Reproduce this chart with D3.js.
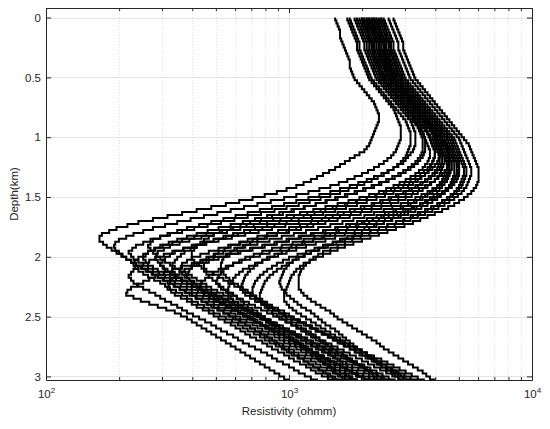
<!DOCTYPE html>
<html>
<head>
<meta charset="utf-8">
<script src="https://cdn.jsdelivr.net/npm/d3@7"></script>
<style>
  html, body { margin: 0; padding: 0; background: #fff; }
  svg { display: block; font-family: "Liberation Sans", Arial, sans-serif; }
</style>
</head>
<body>
<svg id="chart" width="550" height="429"></svg>
<script>
// top of each layer (km)
const depthKm = [0,0.025,0.05,0.075,0.1,0.125,0.15,0.175,0.2,0.225,0.25,0.275,0.3,0.325,0.35,0.375,0.4,0.425,0.45,0.475,
  0.5,0.525,0.55,0.575,0.6,0.625,0.65,0.675,0.7,0.725,0.75,0.775,0.8,0.825,0.85,0.875,0.9,0.925,0.95,0.975,
  1,1.025,1.05,1.075,1.1,1.125,1.15,1.175,1.2,1.225,1.25,1.275,1.3,1.325,1.35,1.375,1.4,1.425,1.45,1.475,
  1.5,1.525,1.55,1.575,1.6,1.625,1.65,1.675,1.7,1.725,1.75,1.775,1.8,1.825,1.85,1.875,1.9,1.925,1.95,1.975,
  2,2.025,2.05,2.075,2.1,2.125,2.15,2.175,2.2,2.225,2.25,2.275,2.3,2.325,2.35,2.375,2.4,2.425,2.45,2.475,
  2.5,2.525,2.55,2.575,2.6,2.625,2.65,2.675,2.7,2.725,2.75,2.775,2.8,2.825,2.85,2.875,2.9,2.925,2.95,2.975,
  3,3.025,3.05];

// log10 of resistivity (ohmm) in each layer, one array per model
const model01 = [3.19,3.195,3.20,3.205,3.21,3.21,3.21,3.215,3.22,3.225,3.23,3.235,3.24,3.245,3.25,3.25,3.25,3.255,3.26,3.265,
  3.27,3.28,3.29,3.30,3.31,3.32,3.33,3.34,3.35,3.355,3.36,3.365,3.37,3.37,3.37,3.365,3.36,3.355,3.35,3.345,
  3.34,3.335,3.33,3.32,3.31,3.29,3.27,3.25,3.23,3.21,3.19,3.165,3.14,3.115,3.09,3.06,3.03,2.99,2.95,2.90,
  2.85,2.795,2.74,2.68,2.62,2.56,2.50,2.44,2.38,2.335,2.29,2.26,2.23,2.22,2.22,2.235,2.25,2.27,2.29,2.31,
  2.33,2.35,2.37,2.395,2.42,2.44,2.46,2.485,2.51,2.53,2.55,2.575,2.60,2.62,2.64,2.665,2.69,2.71,2.73,2.755,
  2.78,2.80,2.82,2.84,2.86,2.88,2.90,2.92,2.94,2.96,2.98,3.00,3.02,3.04,3.06,3.08,3.10,3.12,3.14,3.16,
  3.18,3.20,3.22];
const model02 = [3.24,3.245,3.25,3.255,3.26,3.265,3.27,3.275,3.28,3.28,3.28,3.285,3.29,3.295,3.30,3.305,3.31,3.315,3.32,3.325,
  3.33,3.34,3.35,3.36,3.37,3.38,3.39,3.40,3.41,3.42,3.43,3.435,3.44,3.445,3.45,3.455,3.46,3.46,3.46,3.46,
  3.46,3.455,3.45,3.445,3.44,3.43,3.42,3.405,3.39,3.37,3.35,3.325,3.30,3.27,3.24,3.205,3.17,3.125,3.08,3.03,
  2.98,2.925,2.87,2.815,2.76,2.705,2.65,2.595,2.54,2.49,2.44,2.40,2.36,2.33,2.30,2.285,2.28,2.285,2.30,2.315,
  2.33,2.35,2.37,2.39,2.41,2.435,2.46,2.48,2.50,2.525,2.55,2.57,2.59,2.615,2.64,2.66,2.68,2.705,2.73,2.75,
  2.77,2.795,2.82,2.84,2.86,2.885,2.91,2.93,2.95,2.975,3.00,3.02,3.04,3.065,3.09,3.11,3.13,3.155,3.18,3.20,
  3.22,3.245,3.27];
const model03 = [3.27,3.275,3.28,3.285,3.29,3.295,3.30,3.305,3.31,3.31,3.31,3.315,3.32,3.325,3.33,3.335,3.34,3.345,3.35,3.355,
  3.36,3.37,3.38,3.39,3.40,3.41,3.42,3.43,3.44,3.45,3.46,3.47,3.48,3.49,3.50,3.505,3.51,3.515,3.52,3.52,
  3.52,3.52,3.52,3.515,3.51,3.50,3.49,3.48,3.47,3.45,3.43,3.405,3.38,3.35,3.32,3.285,3.25,3.21,3.17,3.125,
  3.08,3.03,2.98,2.93,2.88,2.83,2.78,2.73,2.68,2.63,2.58,2.54,2.50,2.47,2.44,2.43,2.42,2.43,2.44,2.455,
  2.47,2.49,2.51,2.53,2.55,2.575,2.60,2.62,2.64,2.66,2.68,2.705,2.73,2.75,2.77,2.79,2.81,2.83,2.85,2.875,
  2.90,2.92,2.94,2.96,2.98,3.005,3.03,3.05,3.07,3.09,3.11,3.135,3.16,3.18,3.20,3.22,3.24,3.26,3.28,3.305,
  3.33,3.35,3.37];
const model04 = [3.25,3.255,3.26,3.265,3.27,3.275,3.28,3.285,3.29,3.29,3.29,3.295,3.30,3.305,3.31,3.315,3.32,3.325,3.33,3.335,
  3.34,3.35,3.36,3.37,3.38,3.39,3.40,3.41,3.42,3.43,3.44,3.45,3.46,3.47,3.48,3.485,3.49,3.495,3.50,3.50,
  3.50,3.50,3.50,3.495,3.49,3.485,3.48,3.47,3.46,3.445,3.43,3.41,3.39,3.365,3.34,3.31,3.28,3.245,3.21,3.17,
  3.13,3.085,3.04,2.99,2.94,2.885,2.83,2.775,2.72,2.665,2.61,2.56,2.51,2.47,2.43,2.40,2.37,2.355,2.34,2.35,
  2.36,2.38,2.40,2.42,2.44,2.465,2.49,2.51,2.53,2.555,2.58,2.60,2.62,2.645,2.67,2.69,2.71,2.735,2.76,2.78,
  2.80,2.825,2.85,2.87,2.89,2.915,2.94,2.96,2.98,3.005,3.03,3.05,3.07,3.095,3.12,3.14,3.16,3.185,3.21,3.23,
  3.25,3.275,3.30];
const model05 = [3.29,3.295,3.30,3.305,3.31,3.315,3.32,3.325,3.33,3.33,3.33,3.335,3.34,3.345,3.35,3.355,3.36,3.365,3.37,3.375,
  3.38,3.39,3.40,3.41,3.42,3.43,3.44,3.45,3.46,3.47,3.48,3.49,3.50,3.51,3.52,3.53,3.54,3.545,3.55,3.555,
  3.56,3.56,3.56,3.56,3.56,3.555,3.55,3.54,3.53,3.515,3.50,3.48,3.46,3.435,3.41,3.38,3.35,3.315,3.28,3.24,
  3.20,3.155,3.11,3.06,3.01,2.96,2.91,2.86,2.81,2.76,2.71,2.665,2.62,2.58,2.54,2.505,2.47,2.445,2.42,2.41,
  2.40,2.41,2.42,2.44,2.46,2.485,2.51,2.535,2.56,2.58,2.60,2.625,2.65,2.675,2.70,2.72,2.74,2.765,2.79,2.815,
  2.84,2.86,2.88,2.905,2.93,2.955,2.98,3.00,3.02,3.045,3.07,3.095,3.12,3.14,3.16,3.185,3.21,3.235,3.26,3.28,
  3.30,3.325,3.35];
const model06 = [3.28,3.285,3.29,3.295,3.30,3.305,3.31,3.315,3.32,3.32,3.32,3.325,3.33,3.335,3.34,3.345,3.35,3.355,3.36,3.365,
  3.37,3.38,3.39,3.40,3.41,3.42,3.43,3.44,3.45,3.46,3.47,3.48,3.49,3.50,3.51,3.52,3.53,3.54,3.55,3.555,
  3.56,3.565,3.57,3.575,3.58,3.58,3.58,3.575,3.57,3.56,3.55,3.535,3.52,3.50,3.48,3.455,3.43,3.40,3.37,3.33,
  3.29,3.245,3.20,3.15,3.10,3.045,2.99,2.935,2.88,2.825,2.77,2.715,2.66,2.61,2.56,2.52,2.48,2.45,2.42,2.40,
  2.38,2.365,2.36,2.365,2.38,2.40,2.42,2.445,2.47,2.49,2.51,2.535,2.56,2.58,2.60,2.625,2.65,2.67,2.69,2.715,
  2.74,2.765,2.79,2.81,2.83,2.855,2.88,2.90,2.92,2.945,2.97,2.99,3.01,3.035,3.06,3.08,3.10,3.125,3.15,3.17,
  3.19,3.215,3.24];
const model07 = [3.31,3.315,3.32,3.325,3.33,3.335,3.34,3.345,3.35,3.35,3.35,3.355,3.36,3.365,3.37,3.375,3.38,3.385,3.39,3.395,
  3.40,3.41,3.42,3.43,3.44,3.45,3.46,3.47,3.48,3.49,3.50,3.51,3.52,3.53,3.54,3.55,3.56,3.565,3.57,3.575,
  3.58,3.585,3.59,3.595,3.60,3.60,3.60,3.595,3.59,3.585,3.58,3.57,3.56,3.545,3.53,3.51,3.49,3.46,3.43,3.395,
  3.36,3.32,3.28,3.235,3.19,3.14,3.09,3.04,2.99,2.94,2.89,2.84,2.79,2.74,2.69,2.645,2.60,2.565,2.53,2.51,
  2.49,2.48,2.47,2.48,2.49,2.51,2.53,2.555,2.58,2.605,2.63,2.655,2.68,2.705,2.73,2.755,2.78,2.805,2.83,2.855,
  2.88,2.905,2.93,2.96,2.99,3.015,3.04,3.065,3.09,3.115,3.14,3.165,3.19,3.215,3.24,3.265,3.29,3.315,3.34,3.365,
  3.39,3.415,3.44];
const model08 = [3.30,3.305,3.31,3.315,3.32,3.325,3.33,3.335,3.34,3.34,3.34,3.345,3.35,3.355,3.36,3.365,3.37,3.375,3.38,3.385,
  3.39,3.40,3.41,3.42,3.43,3.44,3.45,3.46,3.47,3.48,3.49,3.50,3.51,3.52,3.53,3.54,3.55,3.56,3.57,3.58,
  3.59,3.595,3.60,3.605,3.61,3.615,3.62,3.62,3.62,3.615,3.61,3.60,3.59,3.575,3.56,3.54,3.52,3.495,3.47,3.44,
  3.41,3.375,3.34,3.295,3.25,3.20,3.15,3.095,3.04,2.985,2.93,2.875,2.82,2.765,2.71,2.66,2.61,2.565,2.52,2.485,
  2.45,2.425,2.40,2.38,2.36,2.35,2.34,2.35,2.36,2.38,2.40,2.425,2.45,2.47,2.49,2.515,2.54,2.56,2.58,2.605,
  2.63,2.655,2.68,2.70,2.72,2.745,2.77,2.79,2.81,2.835,2.86,2.885,2.91,2.93,2.95,2.975,3.00,3.02,3.04,3.065,
  3.09,3.115,3.14];
const model09 = [3.33,3.335,3.34,3.345,3.35,3.355,3.36,3.365,3.37,3.37,3.37,3.375,3.38,3.385,3.39,3.395,3.40,3.405,3.41,3.415,
  3.42,3.43,3.44,3.45,3.46,3.47,3.48,3.49,3.50,3.51,3.52,3.53,3.54,3.55,3.56,3.57,3.58,3.59,3.60,3.605,
  3.61,3.615,3.62,3.625,3.63,3.635,3.64,3.64,3.64,3.635,3.63,3.625,3.62,3.61,3.60,3.585,3.57,3.55,3.53,3.505,
  3.48,3.45,3.42,3.38,3.34,3.295,3.25,3.20,3.15,3.10,3.05,3.00,2.95,2.90,2.85,2.80,2.75,2.71,2.67,2.635,
  2.60,2.58,2.56,2.555,2.55,2.56,2.57,2.59,2.61,2.635,2.66,2.68,2.70,2.725,2.75,2.775,2.80,2.82,2.84,2.865,
  2.89,2.915,2.94,2.96,2.98,3.005,3.03,3.05,3.07,3.095,3.12,3.145,3.17,3.19,3.21,3.235,3.26,3.285,3.31,3.33,
  3.35,3.375,3.40];
const model10 = [3.32,3.325,3.33,3.335,3.34,3.345,3.35,3.355,3.36,3.36,3.36,3.365,3.37,3.375,3.38,3.385,3.39,3.395,3.40,3.405,
  3.41,3.42,3.43,3.44,3.45,3.46,3.47,3.48,3.49,3.50,3.51,3.52,3.53,3.54,3.55,3.56,3.57,3.58,3.59,3.60,
  3.61,3.615,3.62,3.625,3.63,3.635,3.64,3.645,3.65,3.65,3.65,3.645,3.64,3.635,3.63,3.62,3.61,3.595,3.58,3.56,
  3.54,3.515,3.49,3.46,3.43,3.395,3.36,3.32,3.28,3.235,3.19,3.14,3.09,3.04,2.99,2.94,2.89,2.84,2.79,2.74,
  2.69,2.645,2.60,2.56,2.52,2.485,2.45,2.425,2.40,2.375,2.35,2.335,2.33,2.36,2.39,2.425,2.46,2.495,2.53,2.555,
  2.58,2.60,2.62,2.64,2.66,2.68,2.70,2.72,2.74,2.76,2.78,2.80,2.82,2.84,2.86,2.88,2.90,2.92,2.94,2.96,
  2.98,3.00,3.02];
const model11 = [3.34,3.345,3.35,3.355,3.36,3.365,3.37,3.375,3.38,3.38,3.38,3.385,3.39,3.395,3.40,3.405,3.41,3.415,3.42,3.425,
  3.43,3.44,3.45,3.46,3.47,3.48,3.49,3.50,3.51,3.52,3.53,3.54,3.55,3.56,3.57,3.58,3.59,3.60,3.61,3.615,
  3.62,3.625,3.63,3.635,3.64,3.645,3.65,3.655,3.66,3.66,3.66,3.66,3.66,3.655,3.65,3.64,3.63,3.62,3.61,3.595,
  3.58,3.56,3.54,3.515,3.49,3.46,3.43,3.395,3.36,3.32,3.28,3.235,3.19,3.145,3.10,3.055,3.01,2.965,2.92,2.88,
  2.84,2.805,2.77,2.74,2.71,2.69,2.67,2.655,2.64,2.635,2.63,2.64,2.65,2.67,2.69,2.715,2.74,2.765,2.79,2.81,
  2.83,2.855,2.88,2.905,2.93,2.955,2.98,3.005,3.03,3.05,3.07,3.095,3.12,3.145,3.17,3.195,3.22,3.24,3.26,3.285,
  3.31,3.335,3.36];
const model12 = [3.35,3.355,3.36,3.365,3.37,3.375,3.38,3.385,3.39,3.39,3.39,3.395,3.40,3.405,3.41,3.415,3.42,3.425,3.43,3.435,
  3.44,3.45,3.46,3.47,3.48,3.49,3.50,3.51,3.52,3.53,3.54,3.55,3.56,3.57,3.58,3.59,3.60,3.61,3.62,3.625,
  3.63,3.635,3.64,3.645,3.65,3.655,3.66,3.665,3.67,3.67,3.67,3.665,3.66,3.65,3.64,3.625,3.61,3.59,3.57,3.545,
  3.52,3.49,3.46,3.425,3.39,3.35,3.31,3.265,3.22,3.17,3.12,3.07,3.02,2.97,2.92,2.87,2.82,2.775,2.73,2.695,
  2.66,2.635,2.61,2.60,2.59,2.585,2.58,2.59,2.60,2.62,2.64,2.665,2.69,2.715,2.74,2.765,2.79,2.815,2.84,2.87,
  2.90,2.925,2.95,2.975,3.00,3.025,3.05,3.075,3.10,3.125,3.15,3.175,3.20,3.225,3.25,3.28,3.31,3.335,3.36,3.385,
  3.41,3.435,3.46];
const model13 = [3.33,3.335,3.34,3.345,3.35,3.355,3.36,3.365,3.37,3.37,3.37,3.375,3.38,3.385,3.39,3.395,3.40,3.405,3.41,3.415,
  3.42,3.43,3.44,3.45,3.46,3.47,3.48,3.49,3.50,3.51,3.52,3.53,3.54,3.55,3.56,3.57,3.58,3.59,3.60,3.61,
  3.62,3.63,3.64,3.65,3.66,3.665,3.67,3.675,3.68,3.68,3.68,3.68,3.68,3.675,3.67,3.665,3.66,3.65,3.64,3.625,
  3.61,3.59,3.57,3.545,3.52,3.49,3.46,3.425,3.39,3.35,3.31,3.27,3.23,3.19,3.15,3.11,3.07,3.03,2.99,2.955,
  2.92,2.89,2.86,2.835,2.81,2.795,2.78,2.77,2.76,2.755,2.75,2.75,2.75,2.76,2.77,2.79,2.81,2.83,2.85,2.87,
  2.89,2.905,2.92,2.94,2.96,2.98,3.00,3.02,3.04,3.06,3.08,3.095,3.11,3.13,3.15,3.17,3.19,3.21,3.23,3.245,
  3.26,3.28,3.30];
const model14 = [3.36,3.365,3.37,3.375,3.38,3.385,3.39,3.395,3.40,3.40,3.40,3.405,3.41,3.415,3.42,3.425,3.43,3.435,3.44,3.445,
  3.45,3.46,3.47,3.48,3.49,3.50,3.51,3.52,3.53,3.54,3.55,3.56,3.57,3.58,3.59,3.60,3.61,3.62,3.63,3.64,
  3.65,3.655,3.66,3.665,3.67,3.675,3.68,3.685,3.69,3.69,3.69,3.69,3.69,3.685,3.68,3.67,3.66,3.645,3.63,3.61,
  3.59,3.565,3.54,3.51,3.48,3.445,3.41,3.37,3.33,3.285,3.24,3.195,3.15,3.105,3.06,3.015,2.97,2.93,2.89,2.855,
  2.82,2.795,2.77,2.75,2.73,2.72,2.71,2.705,2.70,2.71,2.72,2.74,2.76,2.785,2.81,2.835,2.86,2.885,2.91,2.935,
  2.96,2.985,3.01,3.035,3.06,3.08,3.10,3.125,3.15,3.175,3.20,3.225,3.25,3.275,3.30,3.325,3.35,3.375,3.40,3.425,
  3.45,3.475,3.50];
const model15 = [3.37,3.375,3.38,3.385,3.39,3.395,3.40,3.405,3.41,3.41,3.41,3.415,3.42,3.425,3.43,3.435,3.44,3.445,3.45,3.455,
  3.46,3.47,3.48,3.49,3.50,3.51,3.52,3.53,3.54,3.55,3.56,3.57,3.58,3.59,3.60,3.61,3.62,3.63,3.64,3.65,
  3.66,3.665,3.67,3.675,3.68,3.685,3.69,3.695,3.70,3.70,3.70,3.695,3.69,3.685,3.68,3.67,3.66,3.645,3.63,3.61,
  3.59,3.57,3.55,3.525,3.50,3.475,3.45,3.42,3.39,3.36,3.33,3.30,3.27,3.24,3.21,3.18,3.15,3.12,3.09,3.065,
  3.04,3.015,2.99,2.97,2.95,2.935,2.92,2.91,2.90,2.895,2.89,2.885,2.88,2.88,2.88,2.89,2.90,2.915,2.93,2.95,
  2.97,2.99,3.01,3.03,3.05,3.07,3.09,3.11,3.13,3.15,3.17,3.195,3.22,3.24,3.26,3.28,3.30,3.32,3.34,3.36,
  3.38,3.40,3.42];
const model16 = [3.35,3.355,3.36,3.365,3.37,3.375,3.38,3.385,3.39,3.39,3.39,3.395,3.40,3.405,3.41,3.415,3.42,3.425,3.43,3.435,
  3.44,3.45,3.46,3.47,3.48,3.49,3.50,3.51,3.52,3.53,3.54,3.55,3.56,3.57,3.58,3.59,3.60,3.61,3.62,3.625,
  3.63,3.635,3.64,3.645,3.65,3.655,3.66,3.66,3.66,3.66,3.66,3.655,3.65,3.645,3.64,3.63,3.62,3.605,3.59,3.57,
  3.55,3.525,3.50,3.47,3.44,3.41,3.38,3.345,3.31,3.275,3.24,3.205,3.17,3.135,3.10,3.065,3.03,3.00,2.97,2.94,
  2.91,2.89,2.87,2.855,2.84,2.83,2.82,2.815,2.81,2.805,2.80,2.81,2.82,2.84,2.86,2.885,2.91,2.935,2.96,2.985,
  3.01,3.035,3.06,3.085,3.11,3.135,3.16,3.185,3.21,3.23,3.25,3.275,3.30,3.325,3.35,3.375,3.40,3.425,3.45,3.475,
  3.50,3.525,3.55];
const model17 = [3.38,3.385,3.39,3.395,3.40,3.405,3.41,3.415,3.42,3.42,3.42,3.425,3.43,3.435,3.44,3.445,3.45,3.455,3.46,3.465,
  3.47,3.48,3.49,3.50,3.51,3.52,3.53,3.54,3.55,3.56,3.57,3.58,3.59,3.60,3.61,3.62,3.63,3.64,3.65,3.66,
  3.67,3.675,3.68,3.685,3.69,3.695,3.70,3.705,3.71,3.715,3.72,3.72,3.72,3.715,3.71,3.705,3.70,3.69,3.68,3.665,
  3.65,3.63,3.61,3.585,3.56,3.53,3.50,3.47,3.44,3.405,3.37,3.335,3.30,3.265,3.23,3.195,3.16,3.125,3.09,3.06,
  3.03,3.015,3.00,2.99,2.98,2.975,2.97,2.965,2.96,2.965,2.97,2.98,2.99,3.005,3.02,3.035,3.05,3.07,3.09,3.105,
  3.12,3.135,3.15,3.17,3.19,3.205,3.22,3.235,3.25,3.265,3.28,3.30,3.32,3.335,3.35,3.365,3.38,3.40,3.42,3.435,
  3.45,3.465,3.48];
const model18 = [3.39,3.395,3.40,3.405,3.41,3.415,3.42,3.425,3.43,3.43,3.43,3.435,3.44,3.445,3.45,3.455,3.46,3.465,3.47,3.475,
  3.48,3.49,3.50,3.51,3.52,3.53,3.54,3.55,3.56,3.57,3.58,3.59,3.60,3.61,3.62,3.63,3.64,3.65,3.66,3.67,
  3.68,3.685,3.69,3.695,3.70,3.705,3.71,3.715,3.72,3.725,3.73,3.73,3.73,3.725,3.72,3.715,3.71,3.70,3.69,3.675,
  3.66,3.64,3.62,3.595,3.57,3.54,3.51,3.475,3.44,3.405,3.37,3.335,3.30,3.26,3.22,3.18,3.14,3.105,3.07,3.035,
  3.00,2.975,2.95,2.93,2.91,2.895,2.88,2.87,2.86,2.855,2.85,2.85,2.85,2.86,2.87,2.89,2.91,2.935,2.96,2.985,
  3.01,3.04,3.07,3.095,3.12,3.145,3.17,3.195,3.22,3.245,3.27,3.295,3.32,3.35,3.38,3.405,3.43,3.455,3.48,3.505,
  3.53,3.555,3.58];
const model19 = [3.41,3.415,3.42,3.425,3.43,3.435,3.44,3.445,3.45,3.45,3.45,3.455,3.46,3.465,3.47,3.475,3.48,3.485,3.49,3.495,
  3.50,3.51,3.52,3.53,3.54,3.55,3.56,3.57,3.58,3.59,3.60,3.61,3.62,3.63,3.64,3.65,3.66,3.67,3.68,3.69,
  3.70,3.705,3.71,3.715,3.72,3.725,3.73,3.735,3.74,3.745,3.75,3.75,3.75,3.745,3.74,3.735,3.73,3.72,3.71,3.695,
  3.68,3.66,3.64,3.615,3.59,3.56,3.53,3.50,3.47,3.435,3.40,3.365,3.33,3.295,3.26,3.23,3.20,3.17,3.14,3.12,
  3.10,3.085,3.07,3.06,3.05,3.045,3.04,3.04,3.04,3.04,3.04,3.05,3.06,3.075,3.09,3.11,3.13,3.15,3.17,3.185,
  3.20,3.22,3.24,3.26,3.28,3.30,3.32,3.34,3.36,3.375,3.39,3.41,3.43,3.45,3.47,3.49,3.51,3.53,3.55,3.565,
  3.58,3.60,3.62];
const model20 = [3.43,3.435,3.44,3.445,3.45,3.455,3.46,3.465,3.47,3.47,3.47,3.475,3.48,3.485,3.49,3.495,3.50,3.505,3.51,3.515,
  3.52,3.53,3.54,3.55,3.56,3.57,3.58,3.59,3.60,3.61,3.62,3.63,3.64,3.65,3.66,3.67,3.68,3.69,3.70,3.71,
  3.72,3.73,3.74,3.745,3.75,3.755,3.76,3.765,3.77,3.775,3.78,3.78,3.78,3.78,3.78,3.775,3.77,3.76,3.75,3.735,
  3.72,3.70,3.68,3.655,3.63,3.60,3.57,3.54,3.51,3.475,3.44,3.405,3.37,3.335,3.30,3.265,3.23,3.20,3.17,3.14,
  3.11,3.085,3.06,3.045,3.03,3.02,3.01,3.005,3.00,2.995,2.99,2.985,2.98,2.98,2.98,2.99,3.00,3.015,3.03,3.05,
  3.07,3.09,3.11,3.13,3.15,3.17,3.19,3.21,3.23,3.25,3.27,3.295,3.32,3.34,3.36,3.38,3.40,3.42,3.44,3.46,
  3.48,3.50,3.52];
const model21 = [3.30,3.305,3.31,3.315,3.32,3.325,3.33,3.335,3.34,3.34,3.34,3.345,3.35,3.355,3.36,3.365,3.37,3.375,3.38,3.385,
  3.39,3.40,3.41,3.42,3.43,3.44,3.45,3.46,3.47,3.48,3.49,3.50,3.51,3.52,3.53,3.54,3.55,3.56,3.57,3.575,
  3.58,3.585,3.59,3.595,3.60,3.60,3.60,3.595,3.59,3.58,3.57,3.555,3.54,3.52,3.50,3.475,3.45,3.42,3.39,3.355,
  3.32,3.28,3.24,3.195,3.15,3.105,3.06,3.01,2.96,2.91,2.86,2.815,2.77,2.73,2.69,2.655,2.62,2.595,2.57,2.555,
  2.54,2.53,2.52,2.52,2.52,2.53,2.54,2.56,2.58,2.60,2.62,2.645,2.67,2.69,2.71,2.735,2.76,2.78,2.80,2.825,
  2.85,2.87,2.89,2.915,2.94,2.96,2.98,3.005,3.03,3.05,3.07,3.095,3.12,3.14,3.16,3.185,3.21,3.23,3.25,3.275,
  3.30,3.32,3.34];
const model22 = [3.32,3.325,3.33,3.335,3.34,3.345,3.35,3.355,3.36,3.36,3.36,3.365,3.37,3.375,3.38,3.385,3.39,3.395,3.40,3.405,
  3.41,3.42,3.43,3.44,3.45,3.46,3.47,3.48,3.49,3.50,3.51,3.52,3.53,3.54,3.55,3.56,3.57,3.58,3.59,3.595,
  3.60,3.605,3.61,3.615,3.62,3.625,3.63,3.63,3.63,3.625,3.62,3.61,3.60,3.585,3.57,3.55,3.53,3.505,3.48,3.45,
  3.42,3.385,3.35,3.31,3.27,3.225,3.18,3.135,3.09,3.045,3.00,2.955,2.91,2.87,2.83,2.795,2.76,2.735,2.71,2.69,
  2.67,2.66,2.65,2.65,2.65,2.66,2.67,2.685,2.70,2.715,2.73,2.75,2.77,2.785,2.80,2.815,2.83,2.85,2.87,2.885,
  2.90,2.915,2.93,2.945,2.96,2.98,3.00,3.015,3.03,3.045,3.06,3.08,3.10,3.115,3.13,3.145,3.16,3.175,3.19,3.21,
  3.23,3.245,3.26];
const model23 = [3.36,3.365,3.37,3.375,3.38,3.38,3.38,3.385,3.39,3.395,3.40,3.405,3.41,3.41,3.41,3.415,3.42,3.425,3.43,3.435,
  3.44,3.45,3.46,3.47,3.48,3.49,3.50,3.51,3.52,3.53,3.54,3.55,3.56,3.565,3.57,3.575,3.58,3.585,3.59,3.595,
  3.60,3.605,3.61,3.615,3.62,3.62,3.62,3.615,3.61,3.60,3.59,3.575,3.56,3.54,3.52,3.495,3.47,3.435,3.40,3.36,
  3.32,3.275,3.23,3.18,3.13,3.075,3.02,2.965,2.91,2.855,2.80,2.745,2.69,2.64,2.59,2.55,2.51,2.485,2.46,2.455,
  2.45,2.46,2.47,2.485,2.50,2.52,2.54,2.56,2.58,2.605,2.63,2.65,2.67,2.69,2.71,2.73,2.75,2.77,2.79,2.815,
  2.84,2.86,2.88,2.90,2.92,2.94,2.96,2.98,3.00,3.025,3.05,3.07,3.09,3.11,3.13,3.15,3.17,3.19,3.21,3.235,
  3.26,3.28,3.30];
const model24 = [3.34,3.345,3.35,3.355,3.36,3.365,3.37,3.375,3.38,3.38,3.38,3.385,3.39,3.395,3.40,3.405,3.41,3.415,3.42,3.425,
  3.43,3.44,3.45,3.46,3.47,3.48,3.49,3.50,3.51,3.52,3.53,3.54,3.55,3.56,3.57,3.58,3.59,3.60,3.61,3.62,
  3.63,3.64,3.65,3.66,3.67,3.675,3.68,3.685,3.69,3.695,3.70,3.70,3.70,3.695,3.69,3.68,3.67,3.655,3.64,3.62,
  3.60,3.57,3.54,3.505,3.47,3.43,3.39,3.345,3.30,3.25,3.20,3.15,3.10,3.05,3.00,2.95,2.90,2.85,2.80,2.755,
  2.71,2.67,2.63,2.60,2.57,2.55,2.53,2.52,2.51,2.505,2.50,2.515,2.53,2.555,2.58,2.60,2.62,2.645,2.67,2.69,
  2.71,2.735,2.76,2.78,2.80,2.82,2.84,2.865,2.89,2.91,2.93,2.955,2.98,3.00,3.02,3.045,3.07,3.09,3.11,3.135,
  3.16,3.18,3.20];
const model25 = [3.31,3.315,3.32,3.32,3.32,3.325,3.33,3.335,3.34,3.345,3.35,3.35,3.35,3.355,3.36,3.365,3.37,3.375,3.38,3.385,
  3.39,3.40,3.41,3.42,3.43,3.44,3.45,3.46,3.47,3.48,3.49,3.50,3.51,3.515,3.52,3.525,3.53,3.535,3.54,3.545,
  3.55,3.55,3.55,3.55,3.55,3.545,3.54,3.53,3.52,3.505,3.49,3.47,3.45,3.425,3.40,3.37,3.34,3.305,3.27,3.23,
  3.19,3.15,3.11,3.065,3.02,2.975,2.93,2.885,2.84,2.80,2.76,2.725,2.69,2.67,2.65,2.635,2.62,2.61,2.60,2.60,
  2.60,2.61,2.62,2.64,2.66,2.685,2.71,2.73,2.75,2.775,2.80,2.82,2.84,2.865,2.89,2.91,2.93,2.955,2.98,3.00,
  3.02,3.045,3.07,3.09,3.11,3.135,3.16,3.18,3.20,3.225,3.25,3.27,3.29,3.315,3.34,3.36,3.38,3.405,3.43,3.45,
  3.47,3.495,3.52];
const model26 = [3.38,3.385,3.39,3.395,3.40,3.40,3.40,3.405,3.41,3.415,3.42,3.425,3.43,3.43,3.43,3.435,3.44,3.445,3.45,3.455,
  3.46,3.47,3.48,3.49,3.50,3.51,3.52,3.53,3.54,3.55,3.56,3.57,3.58,3.59,3.60,3.61,3.62,3.625,3.63,3.635,
  3.64,3.645,3.65,3.655,3.66,3.66,3.66,3.66,3.66,3.655,3.65,3.64,3.63,3.615,3.60,3.58,3.56,3.535,3.51,3.48,
  3.45,3.415,3.38,3.34,3.30,3.255,3.21,3.165,3.12,3.075,3.03,2.99,2.95,2.91,2.87,2.84,2.81,2.785,2.76,2.745,
  2.73,2.725,2.72,2.72,2.72,2.73,2.74,2.755,2.77,2.79,2.81,2.83,2.85,2.865,2.88,2.90,2.92,2.94,2.96,2.975,
  2.99,3.01,3.03,3.05,3.07,3.09,3.11,3.125,3.14,3.16,3.18,3.20,3.22,3.235,3.25,3.27,3.29,3.31,3.33,3.345,
  3.36,3.38,3.40];

const models = [model01, model02, model03, model04, model05, model06, model07, model08, model09, model10,
  model11, model12, model13, model14, model15, model16, model17, model18, model19, model20,
  model21, model22, model23, model24, model25, model26];

// axis ticks
const xMajorTicks = [100, 1000, 10000];
const xTickExponents = ['2', '3', '4'];
const xMinorTicks = [200, 300, 400, 500, 600, 700, 800, 900, 2000, 3000, 4000, 5000, 6000, 7000, 8000, 9000];
const yTicks = [0, 0.5, 1, 1.5, 2, 2.5, 3];

const svg = d3.select('#chart');
const plot = { left: 46, right: 532, top: 8, bottom: 380 };
const axisColor = '#262626';

const x = d3.scaleLog().domain([100, 10000]).range([plot.left, plot.right]);
const y = d3.scaleLinear().domain([-0.08, 3.03]).range([plot.top, plot.bottom]);

// grid
const grid = svg.append('g');
grid.selectAll('line.h-grid')
  .data(yTicks)
  .join('line')
  .attr('x1', plot.left)
  .attr('x2', plot.right)
  .attr('y1', (d) => Math.round(y(d)) + 0.5)
  .attr('y2', (d) => Math.round(y(d)) + 0.5)
  .attr('stroke', '#e4e4e4')
  .attr('stroke-width', 1);

grid.selectAll('line.v-grid')
  .data([1000])
  .join('line')
  .attr('x1', (d) => Math.round(x(d)) + 0.5)
  .attr('x2', (d) => Math.round(x(d)) + 0.5)
  .attr('y1', plot.top)
  .attr('y2', plot.bottom)
  .attr('stroke', '#e4e4e4')
  .attr('stroke-width', 1);

grid.selectAll('line.minor-grid')
  .data(xMinorTicks)
  .join('line')
  .attr('x1', (d) => Math.round(x(d)) + 0.5)
  .attr('x2', (d) => Math.round(x(d)) + 0.5)
  .attr('y1', plot.top)
  .attr('y2', plot.bottom)
  .attr('stroke', '#dcdcdc')
  .attr('stroke-width', 1)
  .attr('stroke-dasharray', '1,2');

// models drawn as layered step profiles
svg.append('clipPath')
  .attr('id', 'plot-clip')
  .append('rect')
  .attr('x', plot.left)
  .attr('y', plot.top)
  .attr('width', plot.right - plot.left)
  .attr('height', plot.bottom - plot.top);

const stepLine = d3.line()
  .x((d) => x(d[0]))
  .y((d) => y(d[1]))
  .curve(d3.curveStepBefore);

function toPoints(model) {
  const points = model.map((v, i) => [Math.pow(10, v), depthKm[i]]);
  // last layer runs on past the bottom of the axes
  points.push([Math.pow(10, model[model.length - 1]), 3.1]);
  return points;
}

svg.append('g')
  .attr('clip-path', 'url(#plot-clip)')
  .selectAll('path')
  .data(models)
  .join('path')
  .attr('d', (d) => stepLine(toPoints(d)))
  .attr('fill', 'none')
  .attr('stroke', '#000')
  .attr('stroke-width', 2)
  .attr('stroke-linejoin', 'miter');

// axes (ticks point inward, box on all sides)
function styleAxis(g) {
  g.attr('color', axisColor)
    .attr('font-family', '"Liberation Sans", Arial, sans-serif')
    .attr('font-size', 11.5);
}

svg.append('g')
  .attr('transform', `translate(${plot.left},0)`)
  .call(d3.axisLeft(y).tickValues(yTicks).tickSize(-5).tickSizeOuter(0).tickPadding(5).tickFormat((d) => d))
  .call(styleAxis);

svg.append('g')
  .attr('transform', `translate(${plot.right},0)`)
  .call(d3.axisRight(y).tickValues(yTicks).tickSize(-5).tickSizeOuter(0).tickFormat(''))
  .call(styleAxis);

const bottomAxis = svg.append('g')
  .attr('transform', `translate(0,${plot.bottom})`)
  .call(d3.axisBottom(x).tickValues(xMajorTicks).tickSize(-5).tickSizeOuter(0).tickPadding(10).tickFormat(() => ''))
  .call(styleAxis);

bottomAxis.selectAll('.tick text')
  .each(function (d, i) {
    const label = d3.select(this);
    label.append('tspan').text('10');
    label.append('tspan')
      .attr('font-size', 8)
      .attr('dy', -5)
      .text(xTickExponents[i]);
  });

svg.append('g')
  .attr('transform', `translate(0,${plot.bottom})`)
  .call(d3.axisBottom(x).tickValues(xMinorTicks).tickSize(-3).tickSizeOuter(0).tickFormat(''))
  .call(styleAxis)
  .call((g) => g.select('.domain').remove());

svg.append('g')
  .attr('transform', `translate(0,${plot.top})`)
  .call(d3.axisTop(x).tickValues(xMajorTicks).tickSize(-5).tickSizeOuter(0).tickFormat(''))
  .call(styleAxis);

svg.append('g')
  .attr('transform', `translate(0,${plot.top})`)
  .call(d3.axisTop(x).tickValues(xMinorTicks).tickSize(-3).tickSizeOuter(0).tickFormat(''))
  .call(styleAxis)
  .call((g) => g.select('.domain').remove());

// axis titles
svg.append('text')
  .attr('x', (plot.left + plot.right) / 2)
  .attr('y', 415)
  .attr('text-anchor', 'middle')
  .attr('font-size', 11.5)
  .attr('fill', axisColor)
  .text('Resistivity (ohmm)');

svg.append('text')
  .attr('transform', `translate(18,${(plot.top + plot.bottom) / 2}) rotate(-90)`)
  .attr('text-anchor', 'middle')
  .attr('font-size', 11.5)
  .attr('fill', axisColor)
  .text('Depth(km)');
</script>
</body>
</html>
